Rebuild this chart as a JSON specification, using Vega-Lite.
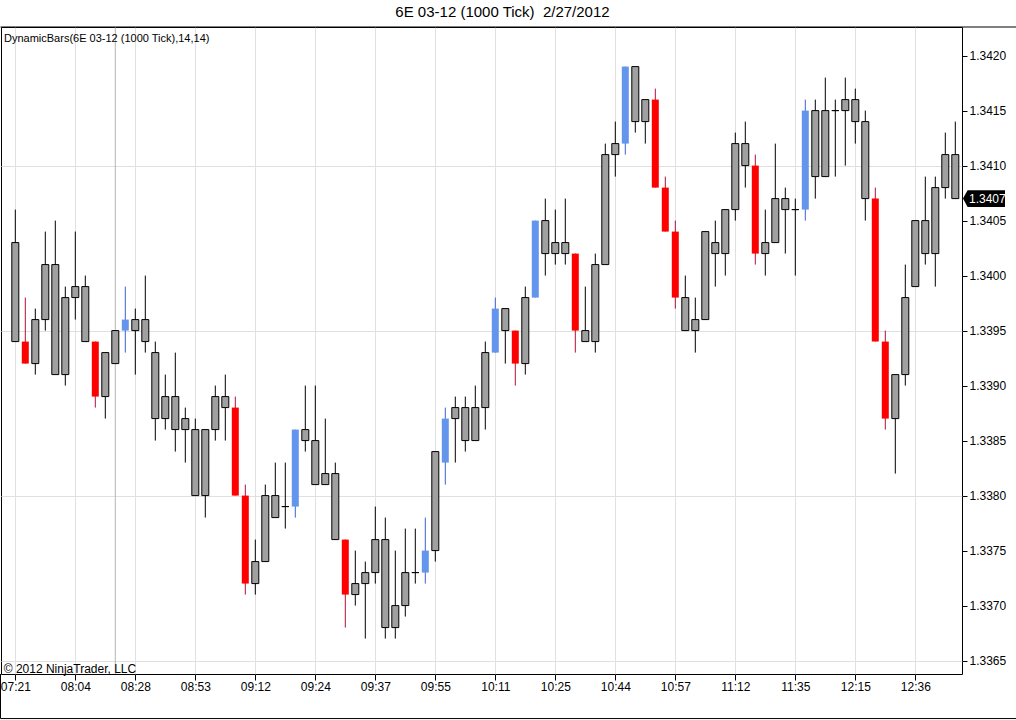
{
  "$schema": "https://vega.github.io/schema/vega-lite/v6.json",
  "width": 961,
  "height": 647,
  "autosize": {"type": "none"},
  "padding": {"left": 1, "top": 27, "right": 54, "bottom": 46},
  "background": "white",
  "title": {
    "text": "6E 03-12 (1000 Tick)\u00a0 2/27/2012",
    "font": "Liberation Sans",
    "fontSize": 15,
    "fontWeight": "normal",
    "color": "black",
    "anchor": "middle",
    "frame": "group",
    "dx": 21,
    "offset": 7
  },
  "config": {
    "view": {"stroke": "black", "strokeWidth": 1},
    "font": "Liberation Sans",
    "scale": {"continuousPadding": 0},
    "axis": {"labelFont": "Liberation Sans", "labelColor": "black", "labelFontSize": 12}
  },
  "data": {
    "values": [
      {"i":0,"open":1.3403,"high":1.3406,"low":1.3394,"close":1.3394,"state":"neutral"},
      {"i":1,"open":1.3394,"high":1.3398,"low":1.3392,"close":1.3392,"state":"bear"},
      {"i":2,"open":1.3392,"high":1.3397,"low":1.3391,"close":1.3396,"state":"neutral"},
      {"i":3,"open":1.3396,"high":1.3404,"low":1.3395,"close":1.3401,"state":"neutral"},
      {"i":4,"open":1.3401,"high":1.3405,"low":1.3391,"close":1.3391,"state":"neutral"},
      {"i":5,"open":1.3391,"high":1.3399,"low":1.3390,"close":1.3398,"state":"neutral"},
      {"i":6,"open":1.3398,"high":1.3404,"low":1.3396,"close":1.3399,"state":"neutral"},
      {"i":7,"open":1.3399,"high":1.3400,"low":1.3394,"close":1.3394,"state":"neutral"},
      {"i":8,"open":1.3394,"high":1.3394,"low":1.3388,"close":1.3389,"state":"bear"},
      {"i":9,"open":1.3389,"high":1.3393,"low":1.3387,"close":1.3393,"state":"neutral"},
      {"i":10,"open":1.3392,"high":1.3395,"low":1.3392,"close":1.3395,"state":"neutral"},
      {"i":11,"open":1.3395,"high":1.3399,"low":1.3393,"close":1.3396,"state":"bull"},
      {"i":12,"open":1.3396,"high":1.3397,"low":1.3391,"close":1.3395,"state":"neutral"},
      {"i":13,"open":1.3396,"high":1.3400,"low":1.3393,"close":1.3394,"state":"neutral"},
      {"i":14,"open":1.3393,"high":1.3394,"low":1.3385,"close":1.3387,"state":"neutral"},
      {"i":15,"open":1.3387,"high":1.3391,"low":1.3386,"close":1.3389,"state":"neutral"},
      {"i":16,"open":1.3389,"high":1.3393,"low":1.3384,"close":1.3386,"state":"neutral"},
      {"i":17,"open":1.3386,"high":1.3388,"low":1.3383,"close":1.3387,"state":"neutral"},
      {"i":18,"open":1.3386,"high":1.3387,"low":1.3380,"close":1.3380,"state":"neutral"},
      {"i":19,"open":1.3380,"high":1.3386,"low":1.3378,"close":1.3386,"state":"neutral"},
      {"i":20,"open":1.3386,"high":1.3390,"low":1.3385,"close":1.3389,"state":"neutral"},
      {"i":21,"open":1.3389,"high":1.3391,"low":1.3385,"close":1.3388,"state":"neutral"},
      {"i":22,"open":1.3388,"high":1.3389,"low":1.3380,"close":1.3380,"state":"bear"},
      {"i":23,"open":1.3380,"high":1.3381,"low":1.3371,"close":1.3372,"state":"bear"},
      {"i":24,"open":1.3372,"high":1.3376,"low":1.3371,"close":1.3374,"state":"neutral"},
      {"i":25,"open":1.3374,"high":1.3381,"low":1.3374,"close":1.3380,"state":"neutral"},
      {"i":26,"open":1.3380,"high":1.3383,"low":1.3378,"close":1.3378,"state":"neutral"},
      {"i":27,"open":1.3379,"high":1.3383,"low":1.3377,"close":1.3379,"state":"neutral"},
      {"i":28,"open":1.3379,"high":1.3386,"low":1.3378,"close":1.3386,"state":"bull"},
      {"i":29,"open":1.3386,"high":1.3390,"low":1.3384,"close":1.3385,"state":"neutral"},
      {"i":30,"open":1.3385,"high":1.3390,"low":1.3381,"close":1.3381,"state":"neutral"},
      {"i":31,"open":1.3381,"high":1.3387,"low":1.3381,"close":1.3382,"state":"neutral"},
      {"i":32,"open":1.3382,"high":1.3383,"low":1.3376,"close":1.3376,"state":"neutral"},
      {"i":33,"open":1.3376,"high":1.3376,"low":1.3368,"close":1.3371,"state":"bear"},
      {"i":34,"open":1.3371,"high":1.3375,"low":1.3370,"close":1.3372,"state":"neutral"},
      {"i":35,"open":1.3372,"high":1.3374,"low":1.3367,"close":1.3373,"state":"neutral"},
      {"i":36,"open":1.3373,"high":1.3379,"low":1.3372,"close":1.3376,"state":"neutral"},
      {"i":37,"open":1.3376,"high":1.3378,"low":1.3367,"close":1.3368,"state":"neutral"},
      {"i":38,"open":1.3368,"high":1.3375,"low":1.3367,"close":1.3370,"state":"neutral"},
      {"i":39,"open":1.3370,"high":1.3377,"low":1.3369,"close":1.3373,"state":"neutral"},
      {"i":40,"open":1.3373,"high":1.3377,"low":1.3372,"close":1.3373,"state":"neutral"},
      {"i":41,"open":1.3373,"high":1.3378,"low":1.3372,"close":1.3375,"state":"bull"},
      {"i":42,"open":1.3375,"high":1.3384,"low":1.3374,"close":1.3384,"state":"neutral"},
      {"i":43,"open":1.3383,"high":1.3388,"low":1.3381,"close":1.3387,"state":"bull"},
      {"i":44,"open":1.3387,"high":1.3389,"low":1.3383,"close":1.3388,"state":"neutral"},
      {"i":45,"open":1.3388,"high":1.3389,"low":1.3384,"close":1.3385,"state":"neutral"},
      {"i":46,"open":1.3385,"high":1.3390,"low":1.3385,"close":1.3388,"state":"neutral"},
      {"i":47,"open":1.3388,"high":1.3394,"low":1.3386,"close":1.3393,"state":"neutral"},
      {"i":48,"open":1.3393,"high":1.3398,"low":1.3393,"close":1.3397,"state":"bull"},
      {"i":49,"open":1.3397,"high":1.3397,"low":1.3392,"close":1.3395,"state":"neutral"},
      {"i":50,"open":1.3395,"high":1.3395,"low":1.3390,"close":1.3392,"state":"bear"},
      {"i":51,"open":1.3392,"high":1.3399,"low":1.3391,"close":1.3398,"state":"neutral"},
      {"i":52,"open":1.3398,"high":1.3405,"low":1.3398,"close":1.3405,"state":"bull"},
      {"i":53,"open":1.3405,"high":1.3407,"low":1.3400,"close":1.3402,"state":"neutral"},
      {"i":54,"open":1.3402,"high":1.3406,"low":1.3401,"close":1.3403,"state":"neutral"},
      {"i":55,"open":1.3403,"high":1.3407,"low":1.3401,"close":1.3402,"state":"neutral"},
      {"i":56,"open":1.3402,"high":1.3402,"low":1.3393,"close":1.3395,"state":"bear"},
      {"i":57,"open":1.3395,"high":1.3399,"low":1.3394,"close":1.3394,"state":"neutral"},
      {"i":58,"open":1.3394,"high":1.3402,"low":1.3393,"close":1.3401,"state":"neutral"},
      {"i":59,"open":1.3401,"high":1.3412,"low":1.3401,"close":1.3411,"state":"neutral"},
      {"i":60,"open":1.3411,"high":1.3414,"low":1.3409,"close":1.3412,"state":"neutral"},
      {"i":61,"open":1.3412,"high":1.3419,"low":1.3411,"close":1.3419,"state":"bull"},
      {"i":62,"open":1.3419,"high":1.3419,"low":1.3413,"close":1.3414,"state":"neutral"},
      {"i":63,"open":1.3414,"high":1.3416,"low":1.3412,"close":1.3416,"state":"neutral"},
      {"i":64,"open":1.3416,"high":1.3417,"low":1.3408,"close":1.3408,"state":"bear"},
      {"i":65,"open":1.3408,"high":1.3409,"low":1.3404,"close":1.3404,"state":"bear"},
      {"i":66,"open":1.3404,"high":1.3405,"low":1.3397,"close":1.3398,"state":"bear"},
      {"i":67,"open":1.3398,"high":1.3400,"low":1.3395,"close":1.3395,"state":"neutral"},
      {"i":68,"open":1.3395,"high":1.3398,"low":1.3393,"close":1.3396,"state":"neutral"},
      {"i":69,"open":1.3396,"high":1.3404,"low":1.3396,"close":1.3404,"state":"neutral"},
      {"i":70,"open":1.3403,"high":1.3405,"low":1.3399,"close":1.3402,"state":"neutral"},
      {"i":71,"open":1.3402,"high":1.3406,"low":1.3400,"close":1.3406,"state":"neutral"},
      {"i":72,"open":1.3406,"high":1.3413,"low":1.3405,"close":1.3412,"state":"neutral"},
      {"i":73,"open":1.3412,"high":1.3414,"low":1.3408,"close":1.3410,"state":"neutral"},
      {"i":74,"open":1.3410,"high":1.3411,"low":1.3401,"close":1.3402,"state":"bear"},
      {"i":75,"open":1.3402,"high":1.3406,"low":1.3400,"close":1.3403,"state":"neutral"},
      {"i":76,"open":1.3403,"high":1.3412,"low":1.3403,"close":1.3407,"state":"neutral"},
      {"i":77,"open":1.3407,"high":1.3408,"low":1.3402,"close":1.3406,"state":"neutral"},
      {"i":78,"open":1.3406,"high":1.3407,"low":1.3400,"close":1.3406,"state":"neutral"},
      {"i":79,"open":1.3406,"high":1.3416,"low":1.3405,"close":1.3415,"state":"bull"},
      {"i":80,"open":1.3415,"high":1.3416,"low":1.3407,"close":1.3409,"state":"neutral"},
      {"i":81,"open":1.3409,"high":1.3418,"low":1.3409,"close":1.3415,"state":"neutral"},
      {"i":82,"open":1.3415,"high":1.3416,"low":1.3409,"close":1.3415,"state":"neutral"},
      {"i":83,"open":1.3415,"high":1.3418,"low":1.3410,"close":1.3416,"state":"neutral"},
      {"i":84,"open":1.3416,"high":1.3417,"low":1.3412,"close":1.3414,"state":"neutral"},
      {"i":85,"open":1.3414,"high":1.3415,"low":1.3405,"close":1.3407,"state":"neutral"},
      {"i":86,"open":1.3407,"high":1.3408,"low":1.3394,"close":1.3394,"state":"bear"},
      {"i":87,"open":1.3394,"high":1.3395,"low":1.3386,"close":1.3387,"state":"bear"},
      {"i":88,"open":1.3387,"high":1.3391,"low":1.3382,"close":1.3391,"state":"neutral"},
      {"i":89,"open":1.3391,"high":1.3401,"low":1.3390,"close":1.3398,"state":"neutral"},
      {"i":90,"open":1.3399,"high":1.3405,"low":1.3399,"close":1.3405,"state":"neutral"},
      {"i":91,"open":1.3405,"high":1.3409,"low":1.3401,"close":1.3402,"state":"neutral"},
      {"i":92,"open":1.3402,"high":1.3409,"low":1.3399,"close":1.3408,"state":"neutral"},
      {"i":93,"open":1.3408,"high":1.3413,"low":1.3407,"close":1.3411,"state":"neutral"},
      {"i":94,"open":1.3411,"high":1.3414,"low":1.3407,"close":1.3407,"state":"neutral"}
    ]
  },
  "layer": [
    {
      "data": {"values": [{}]},
      "mark": {"type": "rule", "color": "#b4b4b4", "strokeWidth": 1},
      "encoding": {
        "x": {"datum": 10, "type": "quantitative", "scale": {"domain": [-1.43, 94.67], "nice": false, "zero": false, "padding": 0},
          "axis": {
            "values": [0, 6, 12, 18, 24, 30, 36, 42, 48, 54, 60, 66, 72, 78, 84, 90],
            "labelExpr": "['07:21','08:04','08:28','08:53','09:12','09:24','09:37','09:55','10:11','10:25','10:44','10:57','11:12','11:35','12:15','12:36'][round(datum.value / 6)]",
            "title": null,
            "domain": false,
            "ticks": true,
            "tickSize": 6,
            "tickColor": "black",
            "labelPadding": 1,
            "labelFlush": false,
            "labelOverlap": false,
            "grid": true,
            "gridColor": "#e0e0e0",
            "gridWidth": 1
          }
        }
      }
    },
    {
      "mark": {"type": "rule", "strokeWidth": 1},
      "encoding": {
        "x": {"field": "i", "type": "quantitative", "scale": {"domain": [-1.43, 94.67], "nice": false, "zero": false, "padding": 0}},
        "y": {"field": "low", "type": "quantitative", "scale": {"domain": [1.336378, 1.34226], "nice": false, "zero": false, "padding": 0},
          "axis": {
            "orient": "right",
            "values": [1.3365, 1.337, 1.3375, 1.338, 1.3385, 1.339, 1.3395, 1.34, 1.3405, 1.341, 1.3415, 1.342],
            "format": ".4f",
            "title": null,
            "domain": false,
            "tickSize": 5,
            "tickColor": "black",
            "labelPadding": 2,
            "labelOverlap": false,
            "labelFlush": false,
            "grid": true,
            "gridWidth": 1,
            "gridColor": {"condition": {"test": "round(datum.value * 10000) % 15 === 0", "value": "#e0e0e0"}, "value": "transparent"}
          }
        },
        "y2": {"field": "high"},
        "color": {"field": "state", "type": "nominal", "legend": null,
          "scale": {"domain": ["neutral", "bear", "bull"], "range": ["#000000", "#b0103a", "#3a62d6"]}}
      }
    },
    {
      "mark": {"type": "bar", "width": 7, "strokeWidth": 1},
      "encoding": {
        "x": {"field": "i", "type": "quantitative", "scale": {"domain": [-1.43, 94.67], "nice": false, "zero": false, "padding": 0}},
        "y": {"field": "open", "type": "quantitative", "scale": {"domain": [1.336378, 1.34226], "nice": false, "zero": false, "padding": 0}},
        "y2": {"field": "close"},
        "fill": {"field": "state", "type": "nominal", "legend": null,
          "scale": {"domain": ["neutral", "bear", "bull"], "range": ["#a0a0a0", "#ff0000", "#6495ed"]}},
        "stroke": {"condition": {"test": "datum.state === 'neutral'", "value": "#000000"}, "value": "transparent"}
      }
    },
    {
      "transform": [{"filter": "datum.i === 94"}],
      "mark": {"type": "point", "shape": "M-1,0L-0.78,-0.4L1,-0.4L1,0.4L-0.78,0.4Z", "size": 1764, "filled": true, "color": "black", "opacity": 1},
      "encoding": {
        "x": {"datum": 96.87, "type": "quantitative", "scale": {"domain": [-1.43, 94.67], "nice": false, "zero": false, "padding": 0}},
        "y": {"field": "close", "type": "quantitative", "scale": {"domain": [1.336378, 1.34226], "nice": false, "zero": false, "padding": 0}}
      }
    },
    {
      "transform": [{"filter": "datum.i === 94"}],
      "mark": {"type": "text", "color": "white", "fontSize": 12, "font": "Liberation Sans", "align": "center", "baseline": "middle"},
      "encoding": {
        "x": {"datum": 97.2, "type": "quantitative", "scale": {"domain": [-1.43, 94.67], "nice": false, "zero": false, "padding": 0}},
        "y": {"field": "close", "type": "quantitative", "scale": {"domain": [1.336378, 1.34226], "nice": false, "zero": false, "padding": 0}},
        "text": {"field": "close", "type": "quantitative", "format": ".4f"}
      }
    },
    {
      "data": {"values": [{"note": "DynamicBars(6E 03-12 (1000 Tick),14,14)"}]},
      "mark": {"type": "text", "color": "black", "fontSize": 11, "font": "Liberation Sans", "align": "left", "baseline": "middle"},
      "encoding": {
        "x": {"datum": -1.13, "type": "quantitative", "scale": {"domain": [-1.43, 94.67], "nice": false, "zero": false, "padding": 0}},
        "y": {"datum": 1.342155, "type": "quantitative", "scale": {"domain": [1.336378, 1.34226], "nice": false, "zero": false, "padding": 0}},
        "text": {"field": "note"}
      }
    },
    {
      "data": {"values": [{"note": "© 2012 NinjaTrader, LLC"}]},
      "mark": {"type": "text", "color": "black", "fontSize": 12, "font": "Liberation Sans", "align": "left", "baseline": "middle"},
      "encoding": {
        "x": {"datum": -1.16, "type": "quantitative", "scale": {"domain": [-1.43, 94.67], "nice": false, "zero": false, "padding": 0}},
        "y": {"datum": 1.336427, "type": "quantitative", "scale": {"domain": [1.336378, 1.34226], "nice": false, "zero": false, "padding": 0}},
        "text": {"field": "note"}
      }
    },
    {
      "data": {"values": [{}]},
      "mark": {"type": "rule", "color": "black", "strokeWidth": 1},
      "encoding": {
        "x": {"datum": -1.48, "type": "quantitative", "scale": {"domain": [-1.43, 94.67], "nice": false, "zero": false, "padding": 0}},
        "x2": {"datum": 100.3},
        "y": {"datum": 1.34226, "type": "quantitative", "scale": {"domain": [1.336378, 1.34226], "nice": false, "zero": false, "padding": 0}}
      }
    },
    {
      "data": {"values": [{}]},
      "mark": {"type": "rule", "color": "black", "strokeWidth": 1},
      "encoding": {
        "x": {"datum": -1.48, "type": "quantitative", "scale": {"domain": [-1.43, 94.67], "nice": false, "zero": false, "padding": 0}},
        "x2": {"datum": 100.3},
        "y": {"datum": 1.335973, "type": "quantitative", "scale": {"domain": [1.336378, 1.34226], "nice": false, "zero": false, "padding": 0}}
      }
    },
    {
      "data": {"values": [{}]},
      "mark": {"type": "rule", "color": "black", "strokeWidth": 1},
      "encoding": {
        "x": {"datum": -1.48, "type": "quantitative", "scale": {"domain": [-1.43, 94.67], "nice": false, "zero": false, "padding": 0}},
        "y": {"datum": 1.336378, "type": "quantitative", "scale": {"domain": [1.336378, 1.34226], "nice": false, "zero": false, "padding": 0}},
        "y2": {"datum": 1.335973}
      }
    }
  ]
}
